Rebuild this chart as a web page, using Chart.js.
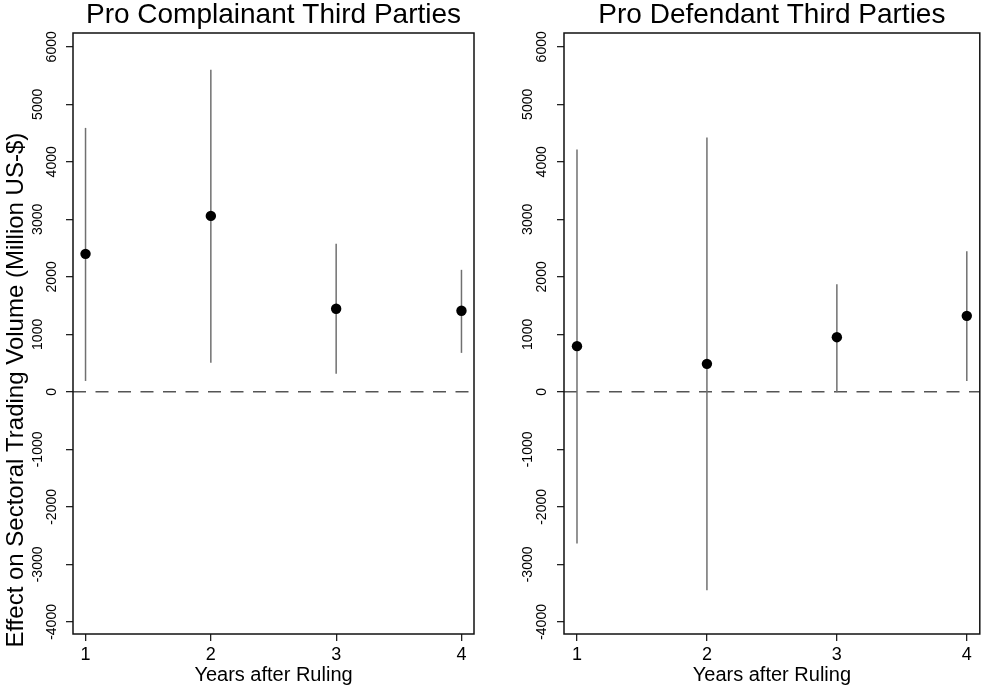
<!DOCTYPE html>
<html><head><meta charset="utf-8">
<script src="https://cdn.jsdelivr.net/npm/chart.js@4.4.1/dist/chart.umd.min.js"></script>
<style>
html,body{margin:0;padding:0;background:#fff;width:985px;height:690px;overflow:hidden}
#c1{position:absolute;left:0;top:0}
#c2{position:absolute;left:490px;top:0}
</style></head><body>
<canvas id="c1" width="490" height="690"></canvas>
<canvas id="c2" width="495" height="690"></canvas>
<script>
// ---- data ----
const years = [1, 2, 3, 4];
const complainantEstimate = [2400, 3060, 1445, 1410];
const complainantLower    = [190, 505, 313, 678];
const complainantUpper    = [4590, 5600, 2575, 2122];
const defendantEstimate   = [795, 487, 951, 1322];
const defendantLower      = [-2637, -3449, -5, 191];
const defendantUpper      = [4216, 4424, 1873, 2447];
const yTicks = [-4000, -3000, -2000, -1000, 0, 1000, 2000, 3000, 4000, 5000, 6000];
const xTicks = [1, 2, 3, 4];
const panelTitles = ['Pro Complainant Third Parties', 'Pro Defendant Third Parties'];
const xTitle = 'Years after Ruling';
const yTitle = 'Effect on Sectoral Trading Volume (Million US-$)';
const xRange = [0.9, 4.1];
const yRange = [-4210, 6240];

const FONT = '"Liberation Sans", Arial, Helvetica, sans-serif';
Chart.defaults.font.family = FONT;
Chart.defaults.color = '#000';

const framePlugin = {
  id: 'frame',
  afterDatasetsDraw(chart) {
    const {ctx, chartArea: a} = chart;
    ctx.save();
    ctx.strokeStyle = '#111';
    ctx.lineWidth = 1.5;
    ctx.strokeRect(a.left, a.top, a.right - a.left, a.bottom - a.top);
    ctx.restore();
  }
};

function makePanel(id, title, est, lo, hi, opts) {
  const datasets = [
    {
      type: 'scatter',
      data: years.map((x, i) => ({x, y: est[i]})),
      pointRadius: 5.2, pointHoverRadius: 5.2,
      backgroundColor: '#000', borderColor: '#000', borderWidth: 0,
      order: 0
    }
  ];
  years.forEach((x, i) => {
    datasets.push({
      type: 'line',
      data: [{x, y: lo[i]}, {x, y: hi[i]}],
      borderColor: '#707070', borderWidth: 1.5,
      pointRadius: 0, order: 1
    });
  });
  datasets.push({
    type: 'line',
    data: [{x: xRange[0], y: 0}, {x: xRange[1], y: 0}],
    borderColor: '#555', borderWidth: 1.5, borderDash: [13, 9.5],
    pointRadius: 0, order: 2
  });

  return new Chart(document.getElementById(id), {
    type: 'scatter',
    data: {datasets},
    options: {
      responsive: false,
      animation: false,
      events: [],
      layout: {padding: {left: 0, right: opts.padRight, top: 0, bottom: 0}},
      plugins: {
        legend: {display: false},
        tooltip: {enabled: false},
        title: {
          display: true, text: title, fullSize: false,
          font: {family: FONT, size: 28, weight: 'normal', lineHeight: 1},
          color: '#000', padding: {top: 1.5, bottom: 3.5}
        }
      },
      scales: {
        x: {
          type: 'linear', min: xRange[0], max: xRange[1],
          afterBuildTicks(s) { s.ticks = xTicks.map(v => ({value: v})); },
          afterFit(s) { s.height = 56; },
          border: {display: false},
          grid: {display: true, drawOnChartArea: false, drawTicks: true, tickLength: 7, color: '#222', lineWidth: 1.3},
          ticks: {
            autoSkip: false, maxRotation: 0, padding: 3,
            font: {family: FONT, size: 18}, color: '#000',
            callback: v => String(v)
          },
          title: {display: true, text: xTitle, font: {family: FONT, size: 20}, color: '#000', padding: {top: 0, bottom: 2.2}}
        },
        y: {
          type: 'linear', min: yRange[0], max: yRange[1],
          afterBuildTicks(s) { s.ticks = yTicks.map(v => ({value: v})); },
          afterFit(s) { s.width = opts.yWidth; },
          border: {display: false},
          grid: {display: true, drawOnChartArea: false, drawTicks: true, tickLength: 7, color: '#222', lineWidth: 1.3},
          ticks: {
            autoSkip: false,
            minRotation: 90, maxRotation: 90, crossAlign: 'center', padding: opts.tickPad,
            font: {family: FONT, size: 14, lineHeight: 0.97}, color: '#000',
            callback: v => {
              const s = String(v);
              return (Math.round(v / 1000) % 2 === 0) ? ['', s] : [s, ''];
            }
          },
          title: opts.showYTitle ? {
            display: true, text: yTitle + ' '.repeat(17),
            font: {family: FONT, size: 24}, color: '#000', padding: {top: 2, bottom: 0}
          } : {display: false}
        }
      }
    },
    plugins: [framePlugin]
  });
}

makePanel('c1', panelTitles[0], complainantEstimate, complainantLower, complainantUpper,
  {padRight: 16, yWidth: 73, tickPad: 3, showYTitle: true});
makePanel('c2', panelTitles[1], defendantEstimate, defendantLower, defendantUpper,
  {padRight: 2, yWidth: 74, tickPad: 4, showYTitle: false});
</script>
</body></html>
